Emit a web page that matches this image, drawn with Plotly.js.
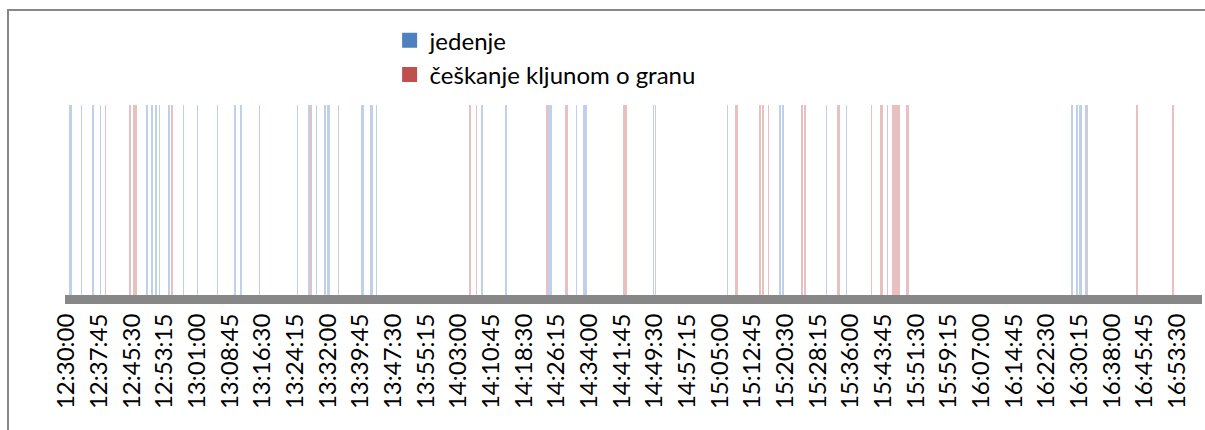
<!DOCTYPE html>
<html>
<head>
<meta charset="utf-8">
<script src="https://cdn.plot.ly/plotly-3.0.1.min.js"></script>
<style>
  html, body { margin: 0; padding: 0; background: #ffffff; }
  #wrap { position: relative; width: 1205px; height: 430px; overflow: hidden; }
  #chart { position: absolute; left: 0; top: 0; width: 1205px; height: 430px; }
  #frame { position: absolute; left: 7px; top: 9px; width: 1300px; height: 500px;
           border-left: 2px solid #878787; border-top: 2px solid #878787; pointer-events: none; }
</style>
</head>
<body>
<div id="wrap"><div id="chart"></div><div id="frame"></div></div>
<script>
// Series names
const seriesNames = ["jedenje", "češkanje kljunom o granu"];

// Event times (each event drawn as a bar of value 1)
const jedenjeTimes = [
  "12:30:45","12:31:00","12:33:30","12:36:15","12:38:00",
  "12:49:00","12:50:15","12:51:15","12:52:00","12:54:15","12:57:45",
  "13:01:00","13:05:45","13:10:00","13:11:15","13:11:30",
  "13:24:45","13:27:30","13:27:45","13:29:15","13:31:15","13:32:00","13:32:15","13:34:30",
  "13:40:00","13:40:15","13:42:15","13:42:30","13:43:30",
  "14:08:30","14:14:15","14:24:30","14:24:45","14:25:00","14:31:00","14:32:45","14:33:00","14:33:15",
  "14:49:15","14:49:45","15:06:45","15:19:15","15:20:00","15:30:15","15:35:00",
  "16:28:30","16:29:45","16:30:30","16:30:45","16:32:00","16:32:15"
];
const ceskanjeTimes = [
  "12:39:15","12:45:00","12:46:00","12:46:15","12:46:30","12:55:00","13:15:45","13:28:00",
  "14:05:45","14:07:15","14:24:00","14:28:30","14:28:45","14:42:15","14:42:45",
  "15:08:45","15:09:00","15:14:30","15:15:15","15:16:30","15:24:30","15:25:15","15:33:00","15:33:15",
  "15:41:00","15:43:15","15:43:30","15:44:45","15:46:00","15:46:15","15:46:45","15:47:00","15:47:30",
  "15:49:15","15:49:30","15:49:45","16:31:45","16:44:00","16:52:30"
];

// X-axis tick labels
const tickLabels = [
  "12:30:00","12:37:45","12:45:30","12:53:15","13:01:00","13:08:45","13:16:30","13:24:15",
  "13:32:00","13:39:45","13:47:30","13:55:15","14:03:00","14:10:45","14:18:30","14:26:15",
  "14:34:00","14:41:45","14:49:30","14:57:15","15:05:00","15:12:45","15:20:30","15:28:15",
  "15:36:00","15:43:45","15:51:30","15:59:15","16:07:00","16:14:45","16:22:30","16:30:15",
  "16:38:00","16:45:45","16:53:30"
];

const origin = "12:30:00";
function toSec(s) {
  const p = s.split(":").map(Number);
  const o = origin.split(":").map(Number);
  return (p[0]*3600 + p[1]*60 + p[2]) - (o[0]*3600 + o[1]*60 + o[2]);
}

const fontFam = "Lato, 'Open Sans', sans-serif";
const barW = 8;

const traces = [
  { type: "bar", name: seriesNames[0], x: jedenjeTimes.map(toSec), y: jedenjeTimes.map(() => 1),
    width: barW, marker: { color: "#bfd1e8" }, showlegend: false, hoverinfo: "skip" },
  { type: "bar", name: seriesNames[1], x: ceskanjeTimes.map(toSec), y: ceskanjeTimes.map(() => 1),
    width: barW, marker: { color: "#e8c0bf" }, showlegend: false, hoverinfo: "skip" },
  { type: "scatter", mode: "markers", name: seriesNames[0], x: [null], y: [null],
    marker: { symbol: "square", size: 15, color: "#4F81BD" }, showlegend: true },
  { type: "scatter", mode: "markers", name: seriesNames[1], x: [null], y: [null],
    marker: { symbol: "square", size: 15, color: "#C0504D" }, showlegend: true }
];

const layout = {
  width: 1205, height: 430,
  margin: { l: 65, r: 3, t: 105, b: 135, pad: 0 },
  paper_bgcolor: "rgba(0,0,0,0)", plot_bgcolor: "rgba(0,0,0,0)",
  barmode: "overlay",
  font: { family: fontFam, size: 24, color: "#000000" },
  xaxis: {
    range: [toSec("12:29:36"), toSec("16:59:23")],
    tickvals: tickLabels.map(toSec), ticktext: tickLabels,
    tickangle: -90, ticks: "", showgrid: false, zeroline: false,
    showline: true, linecolor: "#878787", linewidth: 9,
    tickfont: { family: fontFam, size: 24, color: "#000000" }
  },
  yaxis: { range: [0, 1], visible: false, fixedrange: true },
  legend: {
    x: 0.2855, y: 1.457, xanchor: "left", yanchor: "top",
    bgcolor: "rgba(0,0,0,0)", borderwidth: 0,
    font: { family: fontFam, size: 24, color: "#000000" },
    itemsizing: "trace", tracegroupgap: 0
  },
  showlegend: true
};

Plotly.newPlot("chart", traces, layout, { displayModeBar: false });
</script>
</body>
</html>
